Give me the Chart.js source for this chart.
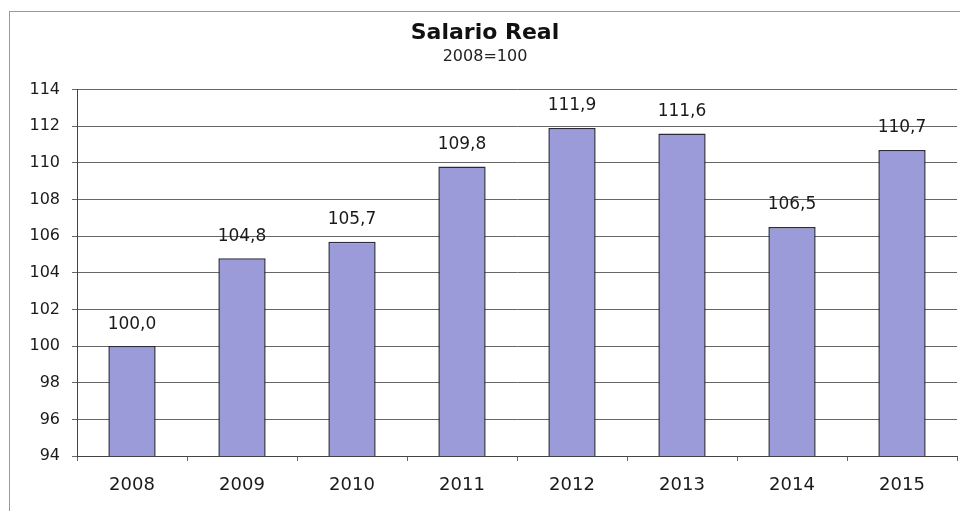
<!DOCTYPE html>
<html>
<head>
<meta charset="utf-8">
<script src="https://cdn.jsdelivr.net/npm/chart.js@4"></script>
<style>
  html, body { margin: 0; padding: 0; background: #fff; overflow: hidden; }
  #wrap { position: relative; width: 960px; height: 511px; overflow: hidden; }
  #frame { position: absolute; left: 9px; top: 11px; width: 960px; height: 520px;
           border-left: 1px solid #999; border-top: 1px solid #999; }
  canvas { position: absolute; left: 13px; top: 0; }
</style>
</head>
<body>
<div id="wrap">
  <div id="frame"></div>
  <canvas id="chart" width="960" height="511"></canvas>
</div>
<script>
const years = ["2008", "2009", "2010", "2011", "2012", "2013", "2014", "2015"];
const salarioReal = [100.0, 104.8, 105.7, 109.8, 111.9, 111.6, 106.5, 110.7];
const yMin = 94;
const yMax = 114;
const yStep = 2;

const fontFam = "'DejaVu Sans', sans-serif";

// value labels above each bar, with comma decimals
const valueLabels = {
  id: "valueLabels",
  afterDatasetsDraw(chart) {
    const ctx = chart.ctx;
    const meta = chart.getDatasetMeta(0);
    ctx.save();
    ctx.font = "17px " + fontFam;
    ctx.fillStyle = "#1a1a1a";
    ctx.textAlign = "center";
    ctx.textBaseline = "middle";
    meta.data.forEach((bar, i) => {
      const txt = salarioReal[i].toFixed(1).replace(".", ",");
      ctx.fillText(txt, bar.x, bar.y - 22);
    });
    ctx.restore();
  }
};

new Chart(document.getElementById("chart"), {
  type: "bar",
  data: {
    labels: years,
    datasets: [{
      data: salarioReal,
      backgroundColor: "#9a9bd8",
      borderColor: "#2b2b3b",
      borderWidth: 1.5,
      categoryPercentage: 1,
      barPercentage: 0.43
    }]
  },
  options: {
    responsive: false,
    animation: false,
    layout: { padding: { left: 0, right: 16, top: 0, bottom: 0 } },
    plugins: {
      legend: { display: false },
      tooltip: { enabled: false },
      title: {
        display: true,
        text: "Salario Real",
        color: "#111",
        font: { family: fontFam, size: 22, weight: "bold" },
        padding: { top: 20, bottom: 0 }
      },
      subtitle: {
        display: true,
        text: "2008=100",
        color: "#222",
        font: { family: fontFam, size: 16 },
        padding: { top: 1, bottom: 23 }
      }
    },
    scales: {
      x: {
        grid: {
          offset: true,
          drawOnChartArea: false,
          drawTicks: true,
          tickLength: 5,
          color: "#666"
        },
        border: { color: "#444", width: 1 },
        ticks: {
          color: "#1a1a1a",
          padding: 14,
          font: { family: fontFam, size: 18 }
        },
        afterFit(scale) { scale.height = 55; }
      },
      y: {
        min: yMin,
        max: yMax,
        ticks: {
          stepSize: yStep,
          color: "#1a1a1a",
          padding: 12,
          font: { family: fontFam, size: 16 }
        },
        grid: { color: "#666", lineWidth: 1, tickLength: 5 },
        border: { color: "#444", width: 1 },
        afterFit(scale) { scale.width = 64; }
      }
    }
  },
  plugins: [valueLabels]
});
</script>
</body>
</html>
